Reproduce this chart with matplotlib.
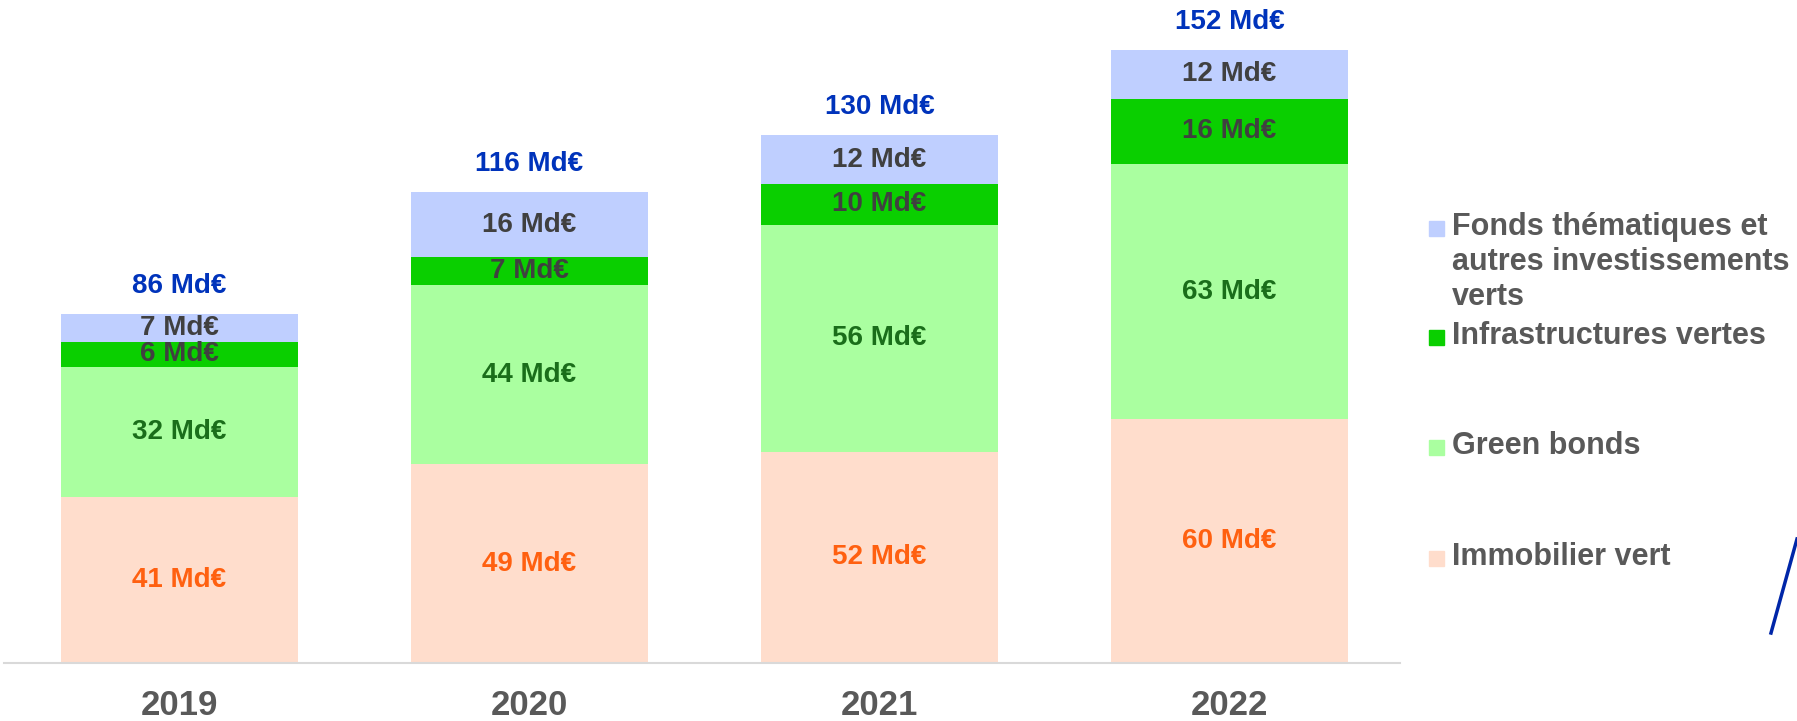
import numpy as np
import matplotlib
matplotlib.use("Agg")
from matplotlib import pyplot as plt
from matplotlib.patches import Rectangle
from matplotlib.lines import Line2D

years = ['2019', '2020', '2021', '2022']
series_names = ['Immobilier vert', 'Green bonds', 'Infrastructures vertes',
                'Fonds thématiques et\nautres investissements\nverts']
immobilier = [41, 49, 52, 60]
green_bonds = [32, 44, 56, 63]
infrastructures = [6, 7, 10, 16]
fonds = [7, 16, 12, 12]
totals = [86, 116, 130, 152]

values = [immobilier, green_bonds, infrastructures, fonds]
bar_colors = ['#FFDDCC', '#AAFFA0', '#0ACF00', '#BFCFFF']
label_colors = ['#FF6010', '#1A6E1A', '#404040', '#404040']

plt.rcParams['font.family'] = ['Liberation Sans', 'DejaVu Sans']
plt.rcParams['font.weight'] = 'bold'

W, H = 1797, 721
fig = plt.figure(figsize=(W / 100, H / 100), dpi=100)
ax = fig.add_axes([4 / W, 58 / H, 1396 / W, 663 / H])

x = np.arange(len(years))
bottom = np.zeros(len(years))
for vals, col, lcol in zip(values, bar_colors, label_colors):
    vals = np.array(vals, dtype=float)
    ax.bar(x, vals, width=0.677, bottom=bottom, color=col, edgecolor='none')
    for xi, b, v in zip(x, bottom, vals):
        ax.text(xi, b + v / 2, f'{int(v)} Md€', ha='center', va='center',
                fontsize=20, fontweight='bold', color=lcol)
    bottom += vals

for xi, top, t in zip(x, bottom, totals):
    ax.annotate(f'{t} Md€', (xi, top), xytext=(0, 20), textcoords='offset points',
                ha='center', va='center', fontsize=20, fontweight='bold', color='#0033BB')

ax.set_xlim(-0.5014, 3.487)
ax.set_ylim(0, 163.3)
ax.set_xticks(x)
ax.set_xticklabels(years, fontsize=25, fontweight='bold', color='#595959')
ax.tick_params(axis='x', length=0, pad=19)
ax.set_yticks([])
for s in ['top', 'left', 'right']:
    ax.spines[s].set_visible(False)
ax.spines['bottom'].set_color('#D9D9D9')
ax.spines['bottom'].set_linewidth(1.5)

# legend drawn by hand, top entry first
legend_y = [228, 337, 447, 558]
for name, col, yy in zip(series_names[::-1], bar_colors[::-1], legend_y):
    fig.patches.append(Rectangle((1429 / W, 1 - (yy + 8) / H), 15 / W, 15 / H,
                                 transform=fig.transFigure, color=col, figure=fig))
    fig.text(1452 / W, 1 - (yy - 16) / H, name, ha='left', va='top', fontsize=22,
             fontweight='bold', color='#595959', linespacing=1.22)

# cut-off decoration at the right edge
fig.add_artist(Line2D([1797 / W, 1771 / W], [1 - 539 / H, 1 - 633 / H],
                      transform=fig.transFigure, color='#0026A8', linewidth=2.5))

fig.savefig('out.png', dpi=100)
